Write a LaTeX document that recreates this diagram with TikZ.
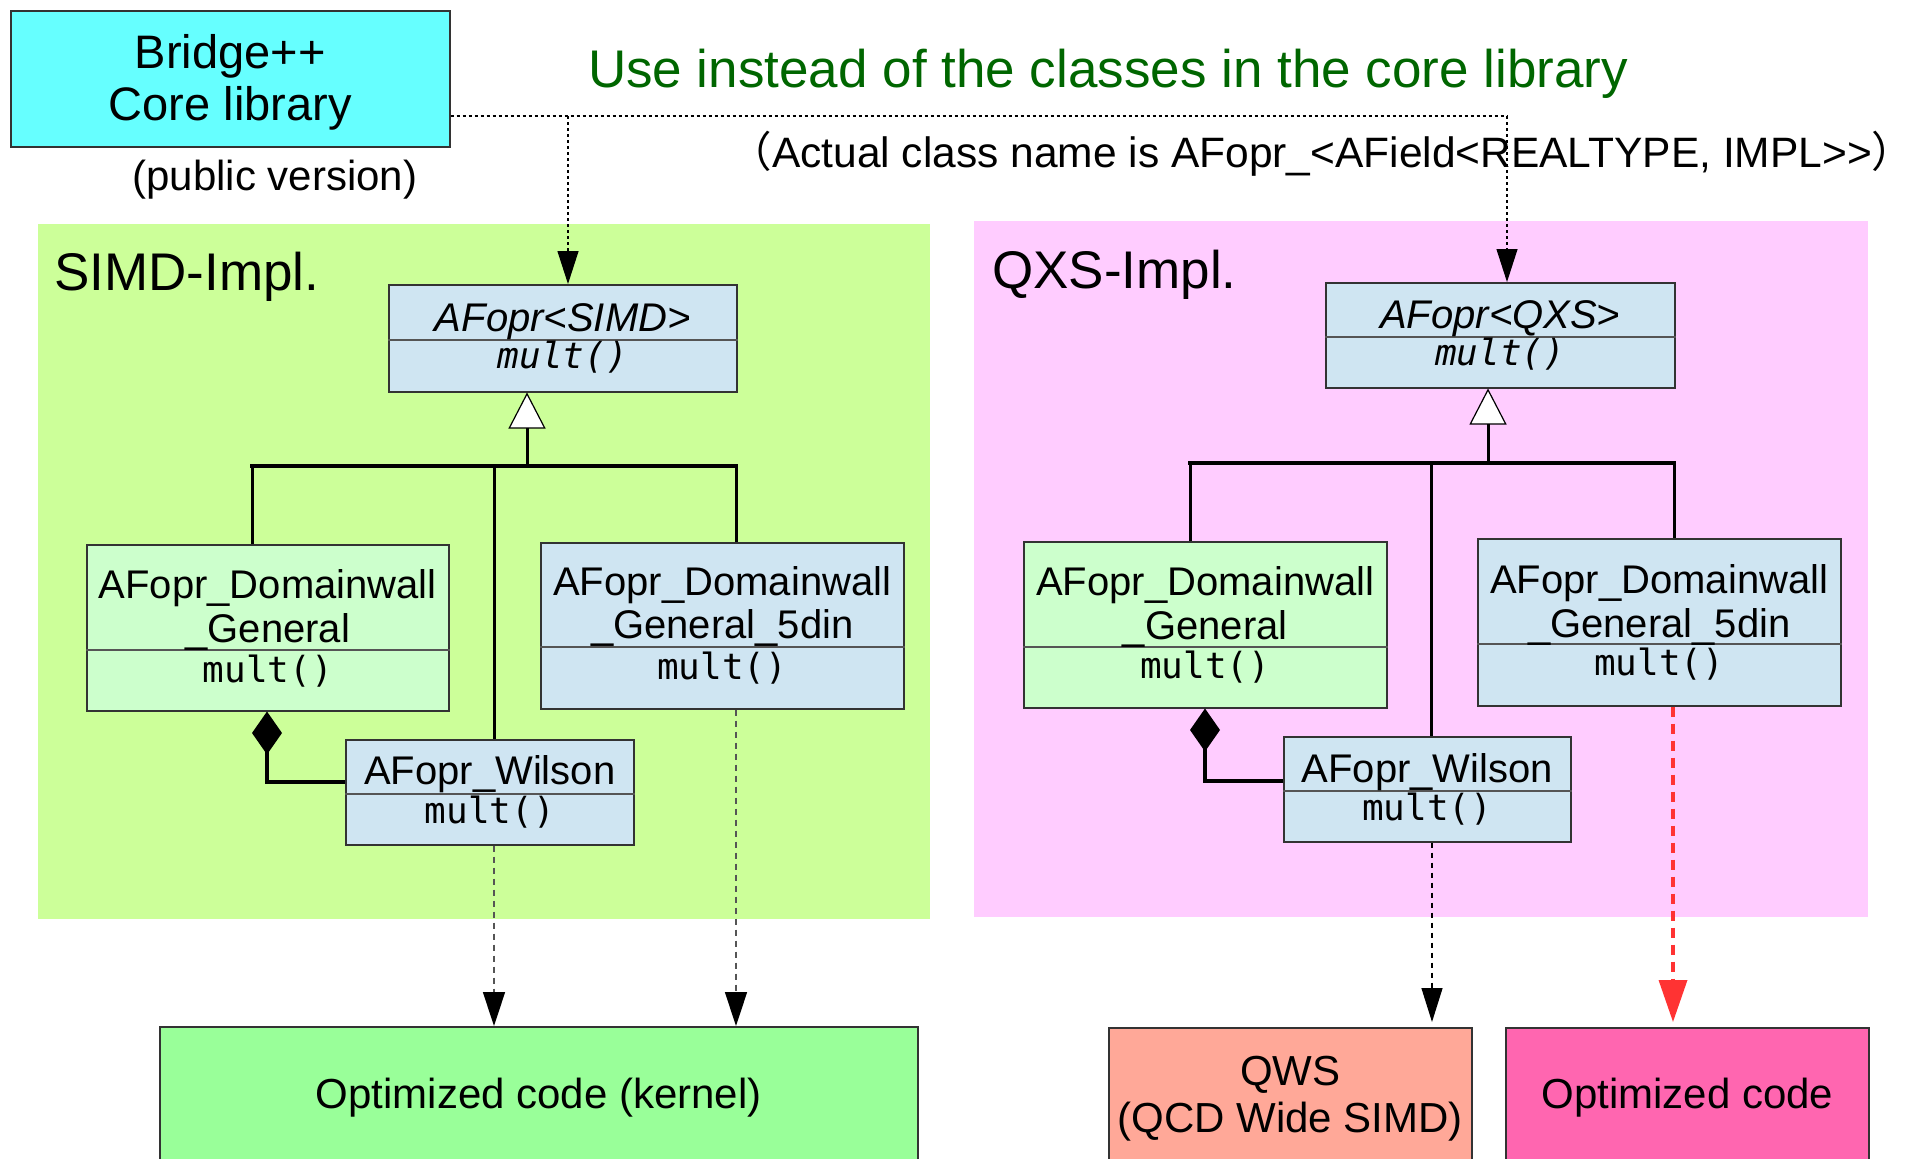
\documentclass[tikz,border=0pt]{standalone}
\usepackage{fontspec}
\setmainfont{Liberation Sans}
\setmonofont{DejaVu Sans Mono}
\newfontfamily\cjkfont{Noto Sans CJK JP}
\usetikzlibrary{arrows.meta,calc}

\definecolor{bridgecyan}{HTML}{66FFFF}
\definecolor{simdbg}{HTML}{CCFF99}
\definecolor{qxsbg}{HTML}{FFCCFF}
\definecolor{clsblue}{HTML}{CFE5F2}
\definecolor{clsgreen}{HTML}{CCFFCC}
\definecolor{kernelgreen}{HTML}{99FF99}
\definecolor{qwssalmon}{HTML}{FFA898}
\definecolor{optpink}{HTML}{FF66B0}
\definecolor{titlegreen}{HTML}{006600}
\definecolor{hintred}{HTML}{FF3333}
\definecolor{edgegrey}{HTML}{333333}
\definecolor{rulegrey}{HTML}{555555}

\newcommand\fsz[2]{\fontsize{#1}{#2}\selectfont}

\begin{document}
\begin{tikzpicture}[x=1pt,y=-1pt,
  panel/.style={inner sep=0, anchor=north west, draw=none},
  box/.style={draw=edgegrey, line width=1.5pt, inner sep=0, anchor=north west},
  divider/.style={draw=rulegrey, line width=1.5pt},
  txt/.style={inner sep=0, anchor=base, text=black},
  clsname/.style={txt, font=\fsz{40}{48}},
  method/.style={txt, font=\fsz{36}{44}\ttfamily},
  big/.style={txt, font=\fsz{42}{50}},
  tree/.style={line width=3pt, black},
  barline/.style={line width=4.5pt, black, line cap=rect},
  inherit/.style={tree, -{Triangle[fill=white, length=36pt, width=37pt, line width=1.2pt]}},
  compose/.style={line width=4pt, black, -{Diamond[length=43pt, width=30pt]}},
  uses/.style={line width=1.2pt, black, dash pattern=on 3pt off 3pt},
  usestip/.style={uses, -{Triangle[length=33pt, width=21pt]}},
  calls/.style={line width=1.5pt, rulegrey, dash pattern=on 6pt off 5pt,
    -{Triangle[length=34pt, width=22pt, color=black]}},
  callsblack/.style={line width=1.3pt, black, dash pattern=on 5pt off 5pt,
    -{Triangle[length=34pt, width=21pt]}},
  callsred/.style={line width=3.5pt, hintred, dash pattern=on 10pt off 7pt,
    -{Triangle[length=42pt, width=28pt]}},
]
\useasboundingbox (0,0) rectangle (1917,1159);
\clip (0,0) rectangle (1917,1159);
\fill[white] (0,0) rectangle (1917,1159);

% ---------- core library and headings ----------
\node[box, fill=bridgecyan, minimum width=439, minimum height=136] (bridge) at (10,10) {};
\node[txt, font=\fsz{47}{56}] (bridgeA) at (bridge.center |- 0,68) {Bridge++};
\node[txt, font=\fsz{47}{56}] (bridgeB) at (bridge.center |- 0,120) {Core library};
\node[big] (public) at (275,190) {(public version)};

\node[txt, font=\fsz{53}{62}, text=titlegreen] (title) at (1108,87)
  {Use instead of the classes in the core library};
\node[txt, font=\fsz{42.5}{50}] (actual) at (1322,167)
  {{\cjkfont （}Actual class name is AFopr\_<AField<REALTYPE, IMPL>\kern0pt>{\cjkfont ）}};

% ---------- panels ----------
\node[panel, fill=simdbg, minimum width=892, minimum height=695] (simdpanel) at (38,224) {};
\node[panel, fill=qxsbg, minimum width=894, minimum height=696] (qxspanel) at (974,221) {};
\node[txt, anchor=base west, font=\fsz{53}{62}] (simdlabel) at (54,290) {SIMD-Impl.};
\node[txt, anchor=base west, font=\fsz{53}{62}] (qxslabel) at (992,288) {QXS-Impl.};

% ---------- SIMD classes ----------
\node[box, fill=clsblue, minimum width=348, minimum height=107] (sbase) at (388,284) {};
\draw[divider] (sbase.west |- 0,340) -- (sbase.east |- 0,340);
\node[clsname, font=\fsz{40}{48}\itshape] (sbaseN) at (sbase.center |- 0,331) {AFopr<SIMD>};
\node[method, font=\fsz{36}{44}\ttfamily\itshape] (sbaseM) at (sbase.center |- 0,368) {mult()};

\node[box, fill=clsgreen, minimum width=362, minimum height=166] (sdwg) at (86,544) {};
\draw[divider] (sdwg.west |- 0,650) -- (sdwg.east |- 0,650);
\node[clsname] (sdwgA) at (sdwg.center |- 0,598) {AFopr\_Domainwall};
\node[clsname] (sdwgB) at (sdwg.center |- 0,642) {\_General};
\node[method] (sdwgM) at (sdwg.center |- 0,682) {mult()};

\node[box, fill=clsblue, minimum width=363, minimum height=166] (sdw5) at (540,542) {};
\draw[divider] (sdw5.west |- 0,647) -- (sdw5.east |- 0,647);
\node[clsname] (sdw5A) at (sdw5.center |- 0,595) {AFopr\_Domainwall};
\node[clsname] (sdw5B) at (sdw5.center |- 0,638) {\_General\_5din};
\node[method] (sdw5M) at (sdw5.center |- 0,679) {mult()};

\node[box, fill=clsblue, minimum width=288, minimum height=105] (swil) at (345,739) {};
\draw[divider] (swil.west |- 0,794) -- (swil.east |- 0,794);
\node[clsname] (swilA) at (swil.center |- 0,784) {AFopr\_Wilson};
\node[method] (swilM) at (swil.center |- 0,823) {mult()};

% ---------- QXS classes ----------
\node[box, fill=clsblue, minimum width=349, minimum height=105] (qbase) at (1325,282) {};
\draw[divider] (qbase.west |- 0,337) -- (qbase.east |- 0,337);
\node[clsname, font=\fsz{40}{48}\itshape] (qbaseN) at (qbase.center |- 0,328) {AFopr<QXS>};
\node[method, font=\fsz{36}{44}\ttfamily\itshape] (qbaseM) at (qbase.center |- 0,365) {mult()};

\node[box, fill=clsgreen, minimum width=363, minimum height=166] (qdwg) at (1023,541) {};
\draw[divider] (qdwg.west |- 0,647) -- (qdwg.east |- 0,647);
\node[clsname] (qdwgA) at (qdwg.center |- 0,595) {AFopr\_Domainwall};
\node[clsname] (qdwgB) at (qdwg.center |- 0,639) {\_General};
\node[method] (qdwgM) at (qdwg.center |- 0,678) {mult()};

\node[box, fill=clsblue, minimum width=363, minimum height=167] (qdw5) at (1477,538) {};
\draw[divider] (qdw5.west |- 0,644) -- (qdw5.east |- 0,644);
\node[clsname] (qdw5A) at (qdw5.center |- 0,593) {AFopr\_Domainwall};
\node[clsname] (qdw5B) at (qdw5.center |- 0,637) {\_General\_5din};
\node[method] (qdw5M) at (qdw5.center |- 0,675) {mult()};

\node[box, fill=clsblue, minimum width=287, minimum height=105] (qwil) at (1283,736) {};
\draw[divider] (qwil.west |- 0,791) -- (qwil.east |- 0,791);
\node[clsname] (qwilA) at (qwil.center |- 0,782) {AFopr\_Wilson};
\node[method] (qwilM) at (qwil.center |- 0,820) {mult()};

% ---------- optimized back ends ----------
\node[box, fill=kernelgreen, minimum width=758, minimum height=160] (kernel) at (159,1026) {};
\node[big] (kernelT) at (kernel.center |- 0,1108) {Optimized code (kernel)};

\node[box, fill=qwssalmon, minimum width=363, minimum height=160] (qws) at (1108,1027) {};
\node[big] (qwsA) at (qws.center |- 0,1085) {QWS};
\node[big] (qwsB) at (qws.center |- 0,1132) {(QCD Wide SIMD)};

\node[box, fill=optpink, minimum width=363, minimum height=160] (opt) at (1505,1027) {};
\node[big] (optT) at (opt.center |- 0,1108) {Optimized code};

% ---------- SIMD hierarchy ----------
\coordinate (sbarL) at (252,466);
\coordinate (sbarR) at (736,466);
\coordinate (sbarI) at (527,466);
\coordinate (sbarW) at (494,466);
\draw[barline] (sbarL) -- (sbarR);
\draw[inherit] (sbarI) -- (sbase.south -| sbarI);
\draw[tree] (sbarL) -- (sdwg.north -| sbarL);
\draw[tree] (sbarR) -- (sdw5.north -| sbarR);
\draw[tree] (sbarW) -- (swil.north -| sbarW);
\coordinate (selbow) at (267,782);
\draw[compose] (swil.west |- selbow) -- (selbow) -- (sdwg.south -| selbow);

% ---------- QXS hierarchy ----------
\coordinate (qbarL) at (1190,463);
\coordinate (qbarR) at (1674,463);
\coordinate (qbarI) at (1488,463);
\coordinate (qbarW) at (1431,463);
\draw[barline] (qbarL) -- (qbarR);
\draw[inherit] (qbarI) -- (qbase.south -| qbarI);
\draw[tree] (qbarL) -- (qdwg.north -| qbarL);
\draw[tree] (qbarR) -- (qdw5.north -| qbarR);
\draw[tree] (qbarW) -- (qwil.north -| qbarW);
\coordinate (qelbow) at (1205,781);
\draw[compose] (qwil.west |- qelbow) -- (qelbow) -- (qdwg.south -| qelbow);

% ---------- replacement of the core classes ----------
\coordinate (splitS) at (568,116);
\coordinate (splitQ) at (1507,116);
\draw[uses] (bridge.east |- splitS) -- (splitQ);
\draw[usestip] (splitQ) -- (qbase.north -| splitQ);
\draw[usestip] (splitS) -- (sbase.north -| splitS);

% ---------- calls into optimized code ----------
\coordinate (colSW) at (494,0);
\coordinate (colS5) at (736,0);
\coordinate (colQW) at (1432,0);
\coordinate (colQ5) at (1673,0);
\draw[calls] (swil.south -| colSW) -- (kernel.north -| colSW);
\draw[calls] (sdw5.south -| colS5) -- (kernel.north -| colS5);
\draw[callsblack] (qwil.south -| colQW) -- ($(qws.north -| colQW)+(0,-5)$);
\draw[callsred] (qdw5.south -| colQ5) -- ($(opt.north -| colQ5)+(0,-5)$);
\end{tikzpicture}
\end{document}
